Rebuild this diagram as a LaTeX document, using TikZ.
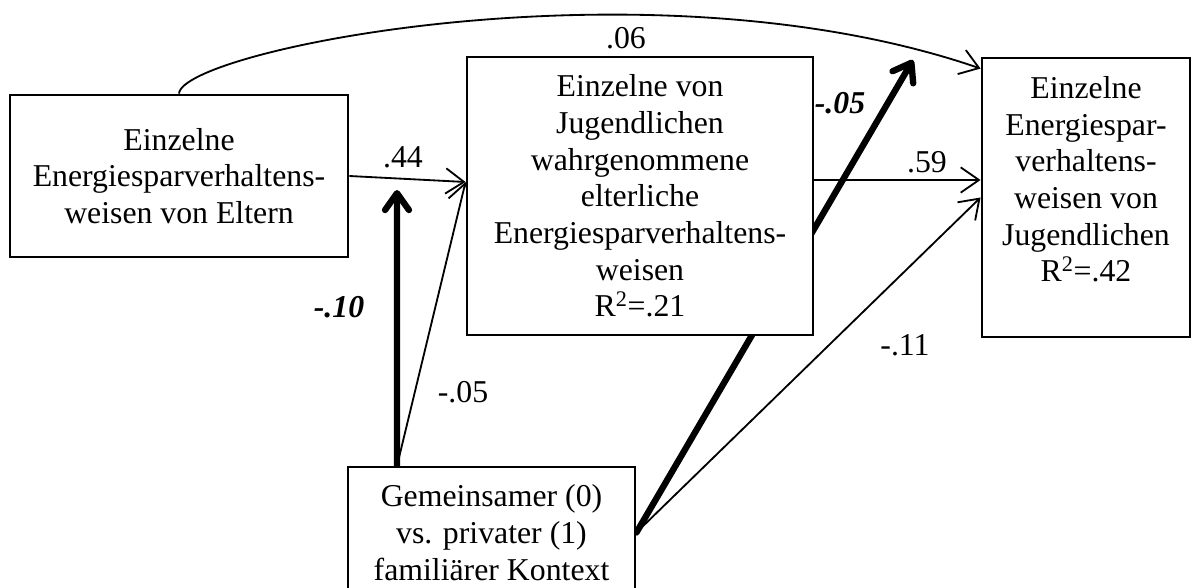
\documentclass[tikz,border=0pt]{standalone}
\usepackage{fontspec}
\setmainfont{Liberation Serif}
\usetikzlibrary{arrows.meta,backgrounds}

\begin{document}
\begin{tikzpicture}[x=0.025cm,y=-0.025cm,
   every node/.style={font=\fontsize{22.6}{26.1}\selectfont},
   box/.style={draw,line width=2pt,fill=white,align=center,inner sep=0pt},
   direct/.style={line width=1.3pt,-{Straight Barb[length=13pt,width=18pt]}},
   moderate/.style={line width=4.5pt,line cap=round,-{Straight Barb[length=12pt,width=17pt,round]}},
   coef/.style={inner sep=0pt},
   boldcoef/.style={inner sep=0pt,font=\fontsize{22.6}{26.1}\selectfont\bfseries\itshape}]
   \path[use as bounding box,clip] (0,0) rectangle (1192,587);

   \node[box,minimum width=8.45cm,minimum height=4.05cm] (A) at (179,176)
   {Einzelne\\Energiesparverhaltens-\\weisen von Eltern};
   \node[box,minimum width=8.65cm,minimum height=6.95cm] (B) at (640,196)
   {Einzelne von\\Jugendlichen\\wahrgenommene\\elterliche\\Energiesparverhaltens-\\weisen\\R\textsuperscript{2}=.21};
   \node[box,minimum width=5.2cm,minimum height=6.975cm] (C) at (1086,197.5)
   {Einzelne\\Energiespar-\\verhaltens-\\weisen von\\Jugendlichen\\R\textsuperscript{2}=.42\\\mbox{}};
   \node[box,minimum width=7.175cm,minimum height=3.275cm] (D) at (491.5,532.5)
   {Gemeinsamer (0)\\vs. privater (1)\\familiärer Kontext};

   \coordinate (bIn) at ([yshift=0.35cm]B.west);
   \coordinate (bOut) at ([yshift=0.4cm]B.east);
   \coordinate (cTop) at ([yshift=-0.3cm]C.north west);
   \coordinate (dTop) at ([xshift=-2.36cm]D.north);
   \coordinate (tip10) at (397,190);
   \coordinate (tip05) at (913,60);

   \begin{scope}[on background layer]
   \draw[direct] (A.east) -- (bIn);
   \draw[direct] (A.north) .. controls (182,50) and (650,-45) .. (cTop);
   \draw[direct] (bOut) -- (bOut -| C.west);
   \draw[direct] (dTop) -- (bIn);
   \draw[direct] (D.east) -- (C.west);
   \draw[moderate] (dTop) -- (tip10);
   \draw[moderate] (D.east) -- (tip05);
   \end{scope}

   \node[coef] (w44) at (403,157) {.44};
   \node[coef] (w06) at (626,38) {.06};
   \node[coef] (w59) at (927,162) {.59};
   \node[coef] (w11) at (905,345) {-.11};
   \node[coef] (w05) at (463,392) {-.05};
   \node[boldcoef] (m10) at (339,307) {-.10};
   \node[boldcoef] (m05) at (840,103) {-.05};
\end{tikzpicture}
\end{document}
